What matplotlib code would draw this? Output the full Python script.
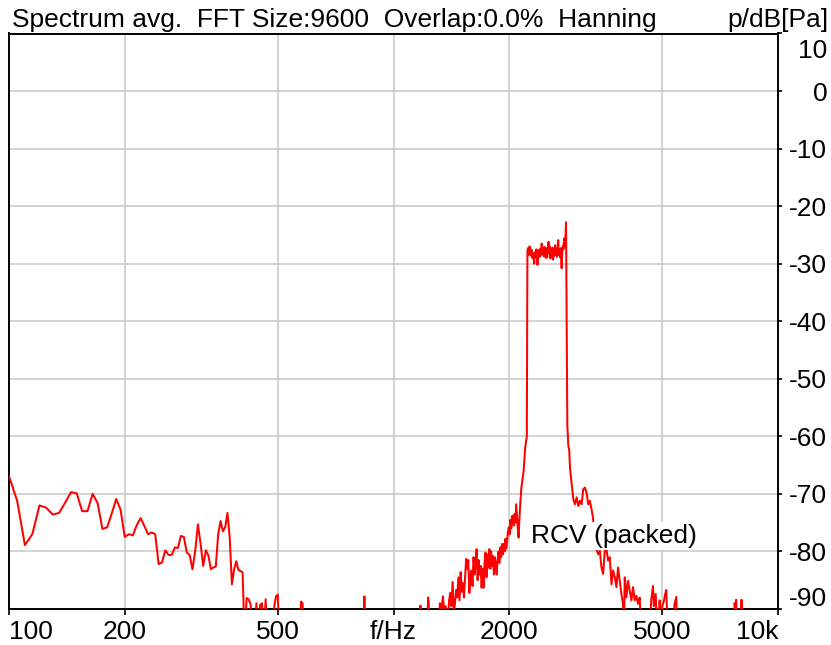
import numpy as np
import matplotlib
matplotlib.use("Agg")
import matplotlib.pyplot as plt
from matplotlib.ticker import FixedLocator, NullLocator
from matplotlib.transforms import ScaledTranslation

# ---------------- data ----------------
B = -95.0  # bins below the plotted floor

f_low = [100, 105, 110, 115, 120, 125, 130, 135, 140, 145, 150, 155, 160, 165,
         170, 175, 180, 185, 190, 195, 200, 205, 210, 215, 220, 225, 230, 235,
         240, 245, 250, 255, 260, 265, 270, 275, 280, 285, 290, 295, 300, 305,
         310, 315, 320, 325, 330, 335, 340, 345, 350, 355, 360, 365, 370, 375,
         380, 385, 390, 395, 400, 405, 410, 415, 420, 425, 430]
db_low = [-66.9, -71.2, -78.9, -77.0, -72.0, -72.4, -73.6, -73.3, -71.5, -69.7,
          -69.9, -73.0, -73.0, -70.0, -71.6, -76.1, -75.8, -73.4, -70.9, -72.7,
          -77.5, -77.0, -77.2, -75.4, -74.2, -75.6, -77.0, -76.7, -77.0, -82.2,
          -81.9, -79.8, -80.6, -80.6, -79.3, -79.4, -77.3, -77.5, -80.2, -80.6,
          -83.1, -79.9, -75.3, -78.7, -82.5, -79.8, -80.7, -83.1, -82.8, -82.6,
          -77.0, -74.7, -76.5, -75.8, -73.3, -77.6, -85.7, -83.1, -81.7, -83.2,
          -83.4, -83.6, B, -88.1, -88.3, -89.2, B]

f_gap = [435, 440, 445, 450, 455, 460, 465, 470, 485, 490, 495, 500, 505,
         570, 575, 580, 585, 835, 840, 845, 1170]
db_gap = [B, -89.0, B, -89.3, -89.0, B, -88.3, B, B, -89.4, -87.8, -87.5, B,
          B, -88.7, -89.0, B, B, -87.8, B, B]

f_rise = [1175, 1180, 1225, 1230, 1235, 1240, 1315, 1320, 1330, 1345, 1355,
          1365, 1380, 1395, 1405, 1415, 1425, 1435, 1445, 1455, 1465, 1475,
          1485, 1495, 1505, 1515, 1525, 1535, 1545, 1555, 1565, 1575, 1585,
          1595, 1605, 1615, 1625, 1635, 1645, 1655, 1665, 1675, 1685, 1695,
          1705, 1715, 1725, 1735, 1745, 1755, 1765, 1775, 1785, 1795, 1805,
          1815, 1825, 1835, 1845, 1855, 1865, 1875, 1885, 1895, 1905, 1915,
          1925, 1935, 1945, 1955, 1965, 1975, 1985, 1995, 2005, 2015, 2025,
          2035, 2045, 2055, 2065, 2075, 2085, 2095, 2105, 2115, 2125, 2135,
          2150, 2165, 2180, 2200, 2222]
db_rise = [-89.4, B, B, -88.0, -89.0, B, B, -89.0, -90.5, -87.8, -91.0,
           -89.5, B, -88.5, -87.2, -89.5, -85.3, -91.0, -89.0, -86.7, -88.0,
           -84.5, -88.5, -83.6, -87.0, -85.5, -88.0, -84.8, -81.3, -83.0, -81.5,
           -87.2, -84.5, -83.3, -86.0, -81.0, -84.0, -82.0, -79.6, -85.0, -81.5,
           -84.0, -82.5, -86.3, -83.0, -86.3, -82.0, -80.2, -84.5, -80.5, -82.8,
           -79.6, -83.0, -80.0, -82.5, -80.8, -84.0, -81.0, -82.2, -84.0, -81.5,
           -80.0, -82.0, -79.3, -81.0, -78.7, -80.5, -78.7, -80.0, -77.8, -79.5,
           -77.9, -76.5, -75.8, -77.0, -74.5, -76.0, -73.8, -74.1, -75.5, -73.5,
           -75.0, -71.8, -74.0, -76.0, -77.6, -74.5, -72.0, -69.0, -67.5, -66.0,
           -62.0, -60.0]

f_band = [2230, 2237, 2247, 2257, 2267, 2278, 2288, 2298, 2308, 2323, 2333,
          2343, 2353, 2368, 2379, 2389, 2399, 2409, 2419, 2429, 2439, 2449,
          2459, 2469, 2480, 2490, 2500, 2510, 2520, 2530, 2540, 2550, 2560,
          2570, 2581, 2591, 2601, 2611, 2621, 2631, 2641, 2651, 2661, 2671,
          2682, 2692, 2702, 2712, 2722, 2727, 2737, 2747, 2757, 2767, 2778,
          2788, 2798, 2810]
db_band = [-27.8, -27.3, -28.5, -27.0, -27.2, -28.6, -27.6, -29.0, -28.2, -30.0,
           -28.0, -28.8, -27.5, -30.2, -28.4, -27.6, -28.8, -27.4, -28.5, -26.5,
           -28.3, -27.8, -28.7, -27.1, -28.0, -29.0, -27.3, -28.9, -27.6, -26.2,
           -28.2, -27.0, -29.1, -27.5, -28.4, -27.2, -29.3, -27.7, -28.6, -26.8,
           -28.5, -27.4, -28.8, -27.0, -25.9, -28.5, -27.6, -28.9, -27.3, -28.2,
           -30.8, -27.8, -26.9, -27.5, -25.6, -27.0, -26.2, -22.8]

f_fall = [2832, 2848, 2865, 2877, 2907, 2935, 2964, 2995, 3024, 3054, 3086,
          3115, 3146, 3178, 3209, 3241, 3274, 3294, 3333, 3373, 3406, 3440,
          3475, 3509, 3544, 3580, 3615, 3651, 3689, 3724, 3762, 3801, 3837,
          3876, 3916, 3953, 3974, 3994, 4034, 4073, 4115, 4157, 4197, 4240,
          4282, 4325, 4368, 4414, 4636, 4680, 4730, 4757, 4808, 4848, 4898,
          4922, 4949, 5000, 5045, 5085, 5123, 5173, 5353, 5376, 5438, 5474]
db_fall = [-58.0, -61.5, -62.5, -65.4, -68.3, -70.9, -71.8, -70.6, -72.1, -71.2,
           -71.8, -69.2, -68.9, -69.8, -71.8, -71.2, -72.7, -73.6, -77.0, -79.6,
           -80.5, -79.9, -82.8, -83.9, -79.9, -79.6, -81.6, -81.0, -85.7, -83.3,
           -84.5, -86.2, -82.8, -85.1, -87.4, -89.1, B, -84.5, -88.0, -85.1,
           -86.8, -88.5, -86.2, -88.5, -87.7, -89.1, -88.0, B, B, -88.5, -86.0,
           -89.5, -87.4, B, B, -88.5, B, -89.5, -88.7, -87.5, -86.7, B, B, -89.3,
           -87.9, B]

f_high = [7680, 7708, 7745, 7785, 7825, 7985, 8040, 8075, 10000]
db_high = [B, -89.0, -89.6, -88.4, B, B, -88.4, B, B]

freq = np.array(f_low + f_gap + f_rise + f_band + f_fall + f_high, dtype=float)
level = np.array(db_low + db_gap + db_rise + db_band + db_fall + db_high)

x_ticks = [100, 200, 500, 1000, 2000, 5000, 10000]
x_labels = ["100", "200", "500", "f/Hz", "2000", "5000", "10k"]
y_ticks = [10, 0, -10, -20, -30, -40, -50, -60, -70, -80, -90]
y_labels = ["10", "0", "-10", "-20", "-30", "-40", "-50", "-60", "-70", "-80", "-90"]

title_left = "Spectrum avg.  FFT Size:9600  Overlap:0.0%  Hanning"
title_right = "p/dB[Pa]"
trace_label = "RCV (packed)"

# ---------------- figure ----------------
plt.rcParams['font.family'] = ['Liberation Sans', 'DejaVu Sans']
FS = 19

W, H = 831, 645
fig = plt.figure(figsize=(W / 100, H / 100), dpi=100)
ax = fig.add_axes([9 / W, 1 - 609 / H, (778 - 9) / W, (609 - 33.5) / H])

ax.plot(freq, level, color='#ff0000', lw=1.45, zorder=3)

ax.set_xscale('log')
ax.set_xlim(100, 10000)
ax.set_ylim(-90, 10)

ax.xaxis.set_major_locator(FixedLocator(x_ticks))
ax.xaxis.set_minor_locator(NullLocator())
ax.set_xticklabels(x_labels)
ax.set_yticks(y_ticks)
ax.set_yticklabels(y_labels)

ax.grid(True, color='#c8c8c8', lw=1.1, zorder=0)
for s in ax.spines.values():
    s.set_linewidth(1.4)
    s.set_color('black')

ax.yaxis.tick_right()
ax.tick_params(axis='y', direction='out', length=3, width=1.2, pad=32.5,
               labelsize=FS)
ax.tick_params(axis='x', direction='out', length=4, width=1.2, pad=4,
               labelsize=FS)
for lab in ax.get_yticklabels():
    lab.set_horizontalalignment('right')

xl = ax.get_xticklabels()
xl[0].set_horizontalalignment('left')
xl[-1].set_horizontalalignment('right')

yt = ax.yaxis.get_major_ticks()
yt[0].label2.set_transform(yt[0].label2.get_transform() +
                           ScaledTranslation(0, -0.15, fig.dpi_scale_trans))
yt[-1].label2.set_transform(yt[-1].label2.get_transform() +
                            ScaledTranslation(0, 0.12, fig.dpi_scale_trans))

ax.text(2274, -77.3, trace_label, fontsize=FS, ha='left', va='center',
        zorder=5, bbox=dict(facecolor='white', edgecolor='none', pad=1.5))

fig.text(12 / W, 1 - 26.6 / H, title_left, ha='left', va='baseline', fontsize=FS)
fig.text(828 / W, 1 - 26.6 / H, title_right, ha='right', va='baseline', fontsize=FS)

fig.savefig("out.png", dpi=100)
